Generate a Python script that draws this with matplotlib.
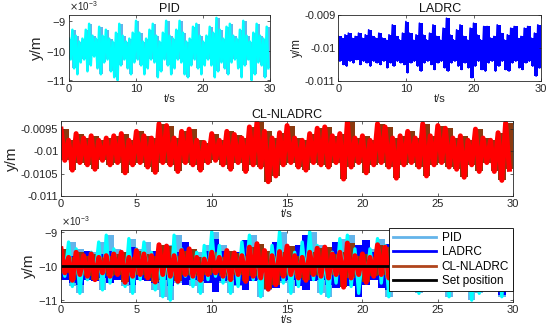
import numpy as np
import matplotlib
matplotlib.use("Agg")
import matplotlib.pyplot as plt
from matplotlib.ticker import ScalarFormatter, FuncFormatter

plt.rcParams['font.family'] = ['Liberation Sans', 'DejaVu Sans']

# sample times (s), one upper and one lower reading every 0.5 s
t_hi = np.arange(0, 30, 0.5)
t_lo = t_hi + 0.25

# upper / lower swing of each response, in mm
pid_hi = [-9.60, -9.30, -9.50, -9.70, -9.60, -9.30, -9.10, -9.50, -9.60, -9.20,
          -9.50, -9.30, -9.60, -9.70, -9.40, -9.10, -9.50, -9.70, -9.60, -9.40,
          -9.00, -9.40, -9.70, -9.60, -9.30, -9.10, -9.50, -9.70, -9.40, -9.00,
          -9.50, -9.60, -9.30, -9.00, -9.40, -9.70, -9.60, -9.20, -9.10, -9.50,
          -9.70, -9.50, -9.20, -9.40, -8.90, -9.30, -9.60, -9.20, -9.10, -9.50,
          -9.60, -9.30, -9.00, -9.50, -9.70, -9.40, -9.10, -9.50, -9.60, -9.20]
pid_lo = [-10.30, -10.60, -10.80, -10.40, -10.30, -10.70, -10.50, -10.20, -10.60, -10.80,
          -10.40, -10.30, -10.70, -10.90, -11.00, -10.50, -10.30, -10.60, -10.80, -10.40,
          -10.30, -10.50, -10.80, -10.60, -10.30, -10.40, -10.90, -10.70, -10.30, -10.50,
          -10.80, -10.60, -10.30, -10.40, -10.80, -10.90, -10.50, -10.30, -10.60, -10.80,
          -10.50, -10.30, -10.50, -10.90, -10.70, -10.40, -10.60, -10.80, -10.40, -10.30,
          -10.60, -10.90, -10.50, -10.30, -11.00, -10.80, -10.40, -10.50, -10.90, -10.60]

ladrc_hi = [-9.65, -9.70, -9.60, -9.55, -9.70, -9.65, -9.55, -9.70, -9.60, -9.45,
            -9.65, -9.70, -9.55, -9.70, -9.75, -9.60, -9.30, -9.65, -9.75, -9.55,
            -9.20, -9.55, -9.75, -9.60, -9.25, -9.60, -9.75, -9.55, -9.30, -9.65,
            -9.75, -9.40, -9.10, -9.60, -9.75, -9.45, -9.30, -9.65, -9.75, -9.40,
            -9.25, -9.60, -9.75, -9.35, -9.35, -9.70, -9.65, -9.30, -9.55, -9.75,
            -9.60, -9.40, -9.35, -9.70, -9.65, -9.40, -9.35, -9.70, -9.55, -9.30]
ladrc_lo = [-10.40, -10.50, -10.55, -10.40, -10.45, -10.35, -10.50, -10.40, -10.45, -10.55,
            -10.40, -10.45, -10.50, -10.40, -10.60, -10.45, -10.55, -10.40, -10.45, -10.50,
            -10.75, -10.45, -10.40, -10.55, -10.70, -10.45, -10.40, -10.50, -10.65, -10.45,
            -10.40, -10.60, -10.70, -10.45, -10.40, -10.55, -10.65, -10.45, -10.60, -10.90,
            -10.55, -10.40, -10.65, -10.70, -10.45, -10.40, -10.70, -10.55, -10.40, -10.65,
            -10.70, -10.45, -10.40, -10.60, -10.65, -10.45, -10.40, -10.55, -10.85, -10.60]

cl_hi = [-9.50, -9.75, -9.60, -9.70, -9.65, -9.75, -9.70, -9.65, -9.60, -9.75,
         -9.55, -9.65, -9.70, -9.38, -9.42, -9.70, -9.55, -9.50, -9.75, -9.80,
         -9.60, -9.75, -9.55, -9.62, -9.70, -9.45, -9.35, -9.55, -9.70, -9.58,
         -9.42, -9.70, -9.75, -9.60, -9.48, -9.45, -9.65, -9.60, -9.33, -9.70,
         -9.65, -9.75, -9.38, -9.45, -9.70, -9.65, -9.55, -9.70, -9.38, -9.65,
         -9.42, -9.48, -9.70, -9.65, -9.75, -9.50, -9.70, -9.75, -9.58, -9.36]
cl_lo = [-10.20, -10.42, -10.25, -10.30, -10.40, -10.20, -10.30, -10.25, -10.48, -10.30,
         -10.25, -10.35, -10.47, -10.25, -10.30, -10.45, -10.25, -10.30, -10.42, -10.25,
         -10.20, -10.30, -10.40, -10.25, -10.45, -10.30, -10.35, -10.68, -10.55, -10.30,
         -10.25, -10.35, -10.42, -10.25, -10.30, -10.35, -10.25, -10.62, -10.35, -10.25,
         -10.48, -10.30, -10.25, -10.35, -10.60, -10.30, -10.25, -10.35, -10.55, -10.30,
         -10.25, -10.35, -10.40, -10.58, -10.30, -10.45, -10.25, -10.45, -10.65, -10.40]

set_position = -0.01
names = ['PID', 'LADRC', 'CL-NLADRC', 'Set position']

PID_EDGE, PID_C = '#64b4ea', '#00ffff'
LAD_C = '#0000ff'
CL_EDGE, CL_C = '#8a3a10', '#ff0000'


def zigzag(hi, lo):
    # alternate between upper and lower readings, converted to metres
    tz = np.empty(2 * len(hi))
    yz = np.empty(2 * len(hi))
    tz[0::2], tz[1::2] = t_hi, t_lo
    yz[0::2], yz[1::2] = np.array(hi) * 1e-3, np.array(lo) * 1e-3
    return tz, yz
# end def: zigzag


def band(ax, hi, lo, color):
    # blocky band between the readings, held for each 0.5 s sample
    x = np.append(t_hi, 30)
    y1 = np.append(hi, hi[-1]) * 1e-3
    y2 = np.append(lo, lo[-1]) * 1e-3
    ax.fill_between(x, y2, y1, step='post', color=color, lw=0)
# end def: band


def style(ax, title=None, ylab_size=11, xstep=10):
    ax.set_xlim(0, 30)
    ax.set_xticks(np.arange(0, 31, xstep))
    ax.tick_params(direction='in', length=2.5, width=0.5, labelsize=8,
                   top=True, right=True, colors='#262626', pad=2)
    for s in ax.spines.values():
        s.set_linewidth(0.6)
        s.set_color('#262626')
    ax.set_xlabel('t/s', fontsize=8, labelpad=0, color='#262626')
    ax.set_ylabel('y/m', fontsize=ylab_size, labelpad=1, color='#262626')
    if title:
        ax.set_title(title, fontsize=9, pad=2, color='#111111')
# end def: style


def sci_axis(ax):
    fmt = ScalarFormatter(useMathText=True)
    fmt.set_powerlimits((-3, -3))
    ax.yaxis.set_major_formatter(fmt)
    ax.yaxis.get_offset_text().set_fontsize(7)
    ax.yaxis.get_offset_text().set_color('#555555')
# end def: sci_axis


fig = plt.figure(figsize=(5.5, 3.31), dpi=100)
ax1 = fig.add_axes([0.1255, 0.755, 0.3655, 0.200])
ax2 = fig.add_axes([0.615, 0.755, 0.369, 0.200])
ax3 = fig.add_axes([0.111, 0.408, 0.822, 0.226])
ax4 = fig.add_axes([0.111, 0.088, 0.822, 0.217])

pid_t, pid_y = zigzag(pid_hi, pid_lo)
lad_t, lad_y = zigzag(ladrc_hi, ladrc_lo)
cl_t, cl_y = zigzag(cl_hi, cl_lo)

# PID
band(ax1, pid_hi, pid_lo, PID_EDGE)
ax1.plot(pid_t, pid_y, color=PID_C, lw=1.8)
ax1.set_ylim(-11.03e-3, -8.8e-3)
ax1.set_yticks([-11e-3, -10e-3, -9e-3])
sci_axis(ax1)
style(ax1, 'PID')

# LADRC
band(ax2, ladrc_hi, ladrc_lo, LAD_C)
ax2.plot(lad_t, lad_y, color=LAD_C, lw=1.2)
ax2.set_ylim(-0.011, -0.009)
ax2.set_yticks([-0.011, -0.01, -0.009])
ax2.yaxis.set_major_formatter(FuncFormatter(lambda v, p: f'{v:g}'))
style(ax2, 'LADRC', ylab_size=8.5)

# CL-NLADRC
band(ax3, cl_hi, cl_lo, CL_EDGE)
ax3.plot(cl_t, cl_y, color=CL_C, lw=3.6)
ax3.set_ylim(-0.011, -0.00932)
ax3.set_yticks([-0.011, -0.0105, -0.01, -0.0095])
ax3.yaxis.set_major_formatter(FuncFormatter(lambda v, p: f'{v:g}'))
style(ax3, 'CL-NLADRC', xstep=5)

# all together
band(ax4, pid_hi, pid_lo, PID_EDGE)
ax4.plot(pid_t, pid_y, color=PID_C, lw=2.4)
h1, = ax4.plot([], [], color=PID_EDGE, lw=2)
band(ax4, ladrc_hi, ladrc_lo, LAD_C)
h2, = ax4.plot([], [], color=LAD_C, lw=2)
band(ax4, cl_hi, cl_lo, CL_EDGE)
ax4.plot(cl_t, cl_y, color=CL_C, lw=3.6)
h3, = ax4.plot([], [], color='#b0441c', lw=2)
h4 = ax4.axhline(set_position, color='black', lw=2)
ax4.set_ylim(-11.05e-3, -8.95e-3)
ax4.set_yticks([-11e-3, -10e-3, -9e-3])
sci_axis(ax4)
style(ax4, xstep=5)
leg = ax4.legend([h1, h2, h3, h4], names, loc='upper right',
                 bbox_to_anchor=(1.0, 1.03), fontsize=8.5, handlelength=3.6,
                 borderaxespad=0, fancybox=False, framealpha=1,
                 labelspacing=0.2, borderpad=0.35, handletextpad=0.5)
leg.get_frame().set_edgecolor('black')
leg.get_frame().set_linewidth(0.6)
for line in leg.get_lines():
    line.set_linewidth(2)

fig.savefig('out.png', dpi=100)
